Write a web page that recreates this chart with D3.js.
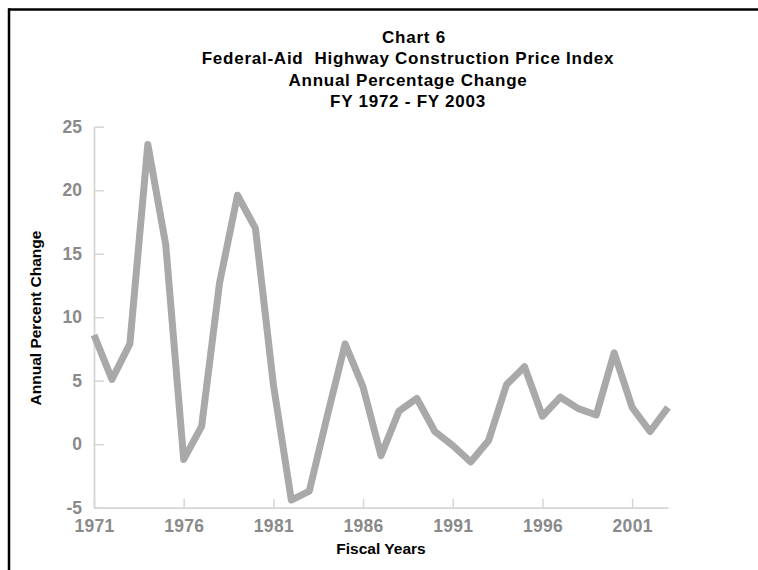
<!DOCTYPE html>
<html>
<head>
<meta charset="utf-8">
<script src="https://cdn.jsdelivr.net/npm/d3@7/dist/d3.min.js"></script>
<style>
  html, body { margin: 0; padding: 0; background: #fff; }
  svg { display: block; font-family: "Liberation Sans", Arial, sans-serif; }
</style>
</head>
<body>
<svg id="chart" width="758" height="570"></svg>
<script>
const titleLines = ["Chart 6", "Federal-Aid  Highway Construction Price Index", "Annual Percentage Change", "FY 1972 - FY 2003"];
const years = [1971,1972,1973,1974,1975,1976,1977,1978,1979,1980,1981,1982,1983,1984,1985,1986,1987,1988,1989,1990,1991,1992,1993,1994,1995,1996,1997,1998,1999,2000,2001,2002,2003];
const pctChange = [8.6,5.1,7.9,23.6,15.7,-1.2,1.4,12.7,19.6,17.0,4.7,-4.4,-3.7,2.2,7.9,4.5,-0.9,2.6,3.6,1.0,-0.1,-1.4,0.3,4.7,6.1,2.2,3.7,2.8,2.3,7.2,2.9,1.0,2.9];
const xTicks = [1971,1976,1981,1986,1991,1996,2001];
const yTicks = [-5,0,5,10,15,20,25];
const xTitle = "Fiscal Years";
const yTitle = "Annual Percent Change";

const svg = d3.select("#chart");

// frame
svg.append("line").attr("x1", 8).attr("x2", 758).attr("y1", 9.5).attr("y2", 9.5)
  .attr("stroke", "#000").attr("stroke-width", 2.5);
svg.append("line").attr("x1", 9).attr("x2", 9).attr("y1", 8.5).attr("y2", 570)
  .attr("stroke", "#000").attr("stroke-width", 2.5);

const x = d3.scaleLinear().domain([1971, 2003]).range([94, 668]);
const y = d3.scaleLinear().domain([-5, 25]).range([507.7, 126.7]);

// title
svg.append("g").selectAll("text").data(titleLines).join("text")
  .attr("x", (d, i) => i === 0 ? 414 : 408)
  .attr("y", (d, i) => 42.5 + i * 21.6)
  .attr("text-anchor", "middle")
  .attr("font-size", "17px").attr("font-weight", "bold").attr("fill", "#000")
  .attr("letter-spacing", "0.75px")
  .style("white-space", "pre")
  .text(d => d);

const axisColor = "#d6d6d6";
const labelColor = "#8a8a8a";
const fmt = d => String(d);

// x axis
const gx = svg.append("g").attr("transform", `translate(0,${y(-5)})`)
  .call(d3.axisBottom(x).tickValues(xTicks).tickFormat(fmt).tickSizeInner(-9).tickSizeOuter(0).tickPadding(20));
gx.select(".domain").attr("stroke", axisColor).attr("stroke-width", 1.8);
gx.selectAll(".tick line").attr("stroke", axisColor).attr("stroke-width", 1.5);
gx.selectAll(".tick text").attr("fill", labelColor).attr("font-size", "17.5px").attr("font-weight", "bold")
  .attr("font-family", "Liberation Sans, Arial, sans-serif").attr("dy", "0.32em").attr("y", 19)
  .attr("letter-spacing", "0.3px");

// y axis
const gy = svg.append("g").attr("transform", `translate(${x(1971)},0)`)
  .call(d3.axisLeft(y).tickValues(yTicks).tickFormat(fmt).tickSizeInner(-10).tickSizeOuter(0).tickPadding(12));
gy.select(".domain").attr("stroke", axisColor).attr("stroke-width", 1.8);
gy.selectAll(".tick line").attr("stroke", axisColor).attr("stroke-width", 1.5);
gy.selectAll(".tick text").attr("fill", labelColor).attr("font-size", "17.5px").attr("font-weight", "bold")
  .attr("font-family", "Liberation Sans, Arial, sans-serif").attr("x", -12);

// line
const line = d3.line().x((d, i) => x(years[i])).y(d => y(d));
svg.append("path").datum(pctChange)
  .attr("d", line)
  .attr("fill", "none").attr("stroke", "#a9a9a9").attr("stroke-width", 7)
  .attr("stroke-linejoin", "round").attr("stroke-linecap", "butt");

// axis titles
svg.append("text").attr("x", 381).attr("y", 554)
  .attr("text-anchor", "middle").attr("font-size", "15.5px").attr("font-weight", "bold").attr("fill", "#000")
  .text(xTitle);
svg.append("text").attr("transform", "translate(40.5,318) rotate(-90)")
  .attr("text-anchor", "middle").attr("font-size", "15.5px").attr("font-weight", "bold").attr("fill", "#000")
  .text(yTitle);
</script>
</body>
</html>
